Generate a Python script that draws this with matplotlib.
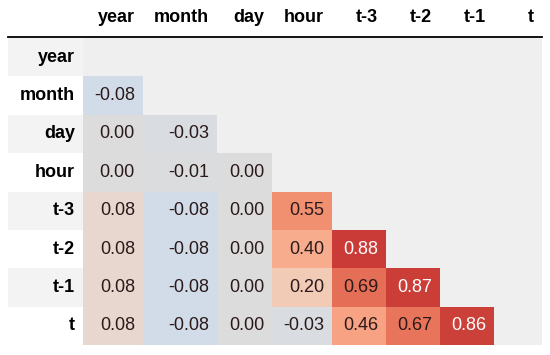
import numpy as np
import matplotlib.pyplot as plt
from matplotlib import colors

plt.rcParams['font.family'] = ['Liberation Sans', 'DejaVu Sans']

columns = ['year', 'month', 'day', 'hour', 't-3', 't-2', 't-1', 't']
rows = ['year', 'month', 'day', 'hour', 't-3', 't-2', 't-1', 't']

# lower triangle of the correlation matrix (diagonal and above are masked)
corr_rows = [
    [],
    [-0.08],
    [0.00, -0.03],
    [0.00, -0.01, 0.00],
    [0.08, -0.08, 0.00, 0.55],
    [0.08, -0.08, 0.00, 0.40, 0.88],
    [0.08, -0.08, 0.00, 0.20, 0.69, 0.87],
    [0.08, -0.08, 0.00, -0.03, 0.46, 0.67, 0.86],
]

n = len(columns)
corr = np.full((n, n), np.nan)
for i, vals in enumerate(corr_rows):
    corr[i, :len(vals)] = vals
corr = np.ma.masked_invalid(corr)

# table layout in pixels
x_edges = np.array([83, 143, 217, 272, 332, 386, 440, 494, 542])
y_edges = np.linspace(38, 345, n + 1)
index_left = 8
pad = 8

fig = plt.figure(figsize=(5.5, 3.55), dpi=100)
ax = fig.add_axes([0, 0, 1, 1])
ax.set_xlim(0, 550)
ax.set_ylim(355, 0)
ax.axis('off')

cmap = plt.get_cmap('coolwarm').copy()
cmap.set_bad('#efefef')
norm = colors.Normalize(vmin=-1, vmax=1)
ax.pcolormesh(x_edges, y_edges, corr, cmap=cmap, norm=norm)

# striped index column
for i, name in enumerate(rows):
    face = '#f3f3f3' if i % 2 == 0 else 'white'
    ax.fill_between([index_left, x_edges[0]], y_edges[i], y_edges[i + 1], color=face, lw=0)
    ax.text(x_edges[0] - pad, (y_edges[i] + y_edges[i + 1]) / 2, name,
            ha='right', va='center', fontsize=13, fontweight='bold', color='black')

# header
for j, name in enumerate(columns):
    ax.text(x_edges[j + 1] - pad, 18, name, ha='right', va='center',
            fontsize=13, fontweight='bold', color='black')
ax.plot([index_left, x_edges[-1]], [37, 37], color='black', lw=1.3)


def text_color(rgba):
    # relative luminance, only the darkest cells get white text
    def lin(c):
        return c / 12.92 if c <= 0.03928 else ((c + 0.055) / 1.055) ** 2.4
    r, g, b = (lin(c) for c in rgba[:3])
    lum = 0.2126 * r + 0.7152 * g + 0.0722 * b
    return 'white' if lum < 0.25 else '#2a1a1a'


for i in range(n):
    for j in range(n):
        if np.ma.is_masked(corr[i, j]):
            continue
        v = corr[i, j]
        ax.text(x_edges[j + 1] - pad, (y_edges[i] + y_edges[i + 1]) / 2, f'{v:.2f}',
                ha='right', va='center', fontsize=13, color=text_color(cmap(norm(v))))

fig.savefig('out.png', dpi=100)
